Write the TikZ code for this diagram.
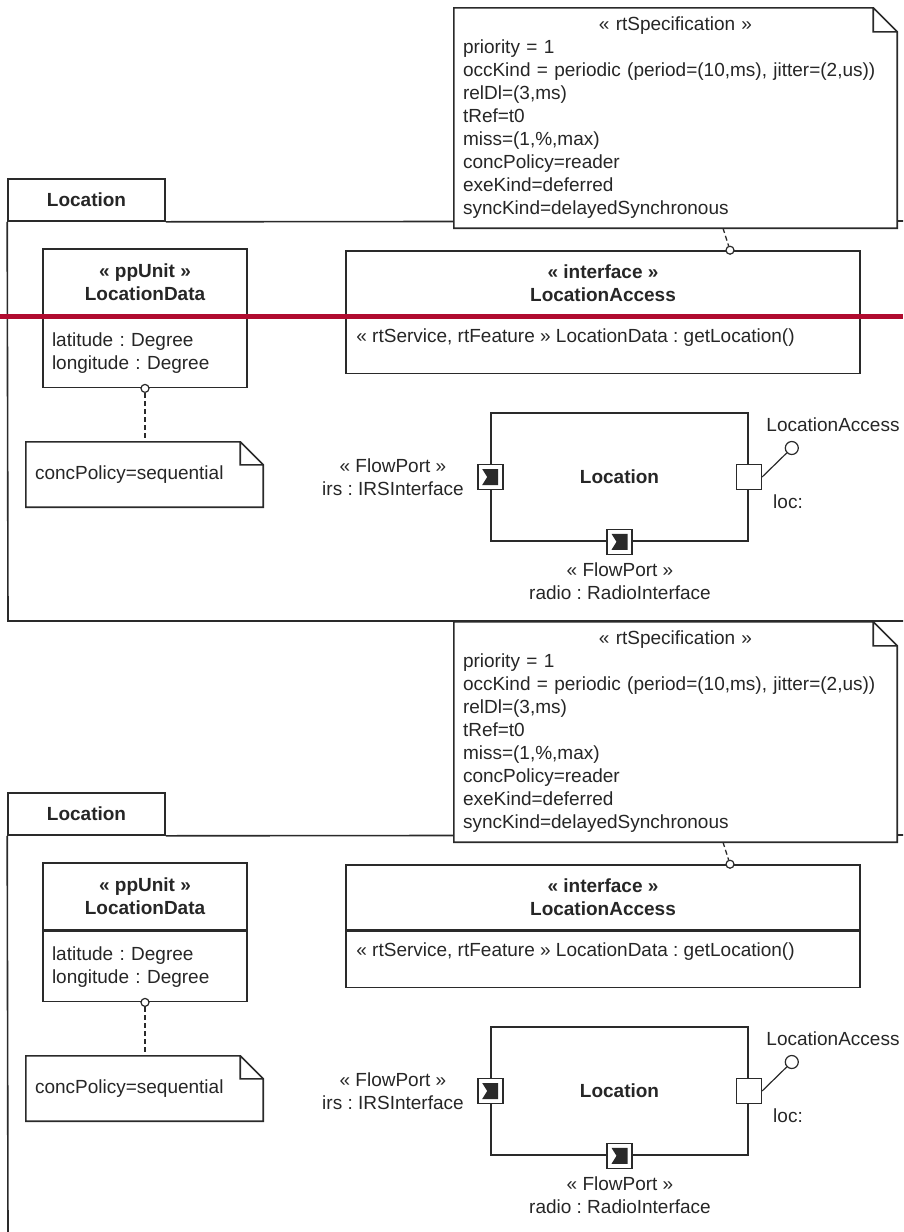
\documentclass[tikz,border=0pt]{standalone}
\usepackage{fontspec}
\setmainfont{Liberation Sans}
\usepackage{tikz}
\usetikzlibrary{positioning}

\definecolor{linec}{HTML}{2A2A2A}
\definecolor{textc}{HTML}{262626}
\definecolor{cutline}{HTML}{B00B2F}

% note outline with folded corner
\newcommand{\dogear}[2]{%
  \draw[fold] (#1.north west) -- ([xshift=-#2]#1.north east) -- ([yshift=-#2]#1.north east)
    -- (#1.south east) -- (#1.south west) -- cycle
    ([xshift=-#2]#1.north east) |- ([yshift=-#2]#1.north east);}

\begin{document}
\frenchspacing
\fontsize{19}{23}\selectfont
\begin{tikzpicture}[
    x=1pt, y=-1pt,
    every node/.style={text=textc},
    box/.style={rectangle, draw=linec, fill=white, line width=1.6pt, inner sep=0pt},
    hdr/.style={box, font=\bfseries, align=center},
    note/.style={rectangle, fill=white, inner xsep=9pt, inner ysep=0pt, align=left},
    fold/.style={draw=linec, line width=1.6pt},
    ball/.style={circle, draw=linec, fill=white, line width=1.2pt, minimum size=8pt, inner sep=0pt},
    port/.style={rectangle, draw=linec, fill=white, line width=1.6pt, minimum size=25pt, inner sep=0pt},
    link/.style={draw=linec, line width=1.3pt, dash pattern=on 5pt off 3pt},
    wire/.style={draw=linec, line width=1.6pt},
    lbl/.style={inner sep=0pt, align=center},
  ]
  \useasboundingbox (0,0) rectangle (903,1232);
  \clip (0,0) rectangle (903,1232);
  \foreach \dy/\k in {0/a, 614/b}{
  \begin{scope}[yshift=-\dy pt]
    % frame with its tab
    \node[box, minimum width=157, minimum height=42, font=\bfseries] (tab\k) at (86.5,200) {Location};
    \draw[wire] (tab\k.south east) -- (910,221) (tab\k.south west) -- (8,621) -- (910,621);
    % class and interface
    \node[hdr, minimum width=204, minimum height=67] (dataHd\k) at (145,282.5) {« ppUnit »\\LocationData};
    \node[box, minimum width=204, minimum height=70, text width=186, align=left, below=0pt of dataHd\k] (dataBd\k)
      {latitude : Degree\\longitude : Degree};
    \node[hdr, minimum width=514, minimum height=65] (ifHd\k) at (603,283.5) {« interface »\\LocationAccess};
    \node[box, minimum width=514, minimum height=56, below=0pt of ifHd\k] (ifBd\k) {};
    \node[lbl, anchor=west] (op\k) at ([xshift=11pt, yshift=-21pt]ifBd\k.north west)
      {« rtService, rtFeature » LocationData : getLocation()};
    % notes
    \node[note, minimum width=237, minimum height=65, text width=219] (seq\k) at (144.5,474.5) {concPolicy=sequential};
    \dogear{seq\k}{23pt}
    \node[note, minimum width=443, minimum height=220, text width=425] (spec\k) at (675.5,118)
      {\makebox[425pt][c]{« rtSpecification »}\\
       priority = 1\\
       occKind = periodic (period=(10,ms), jitter=(2,us))\\
       relDl=(3,ms)\\
       tRef=t0\\
       miss=(1,\%,max)\\
       concPolicy=reader\\
       exeKind=deferred\\
       syncKind=delayedSynchronous};
    \dogear{spec\k}{24pt}
    \node[ball] (dataBall\k) at (dataBd\k.south) {};
    \node[ball] (ifBall\k) at ([xshift=127pt]ifHd\k.north) {};
    \draw[link] (dataBall\k) -- (dataBall\k |- seq\k.north);
    \draw[link] ([xshift=47.5pt]spec\k.south) -- (ifBall\k);
    % component with ports
    \node[box, minimum width=257, minimum height=128, font=\bfseries] (comp\k) at (619.5,477) {Location};
    \node[port] (irs\k) at (comp\k.west) {};
    \node[port] (radio\k) at (comp\k.south) {};
    \node[port] (loc\k) at (comp\k.east) {};
    \foreach \p in {irs\k, radio\k}
      \fill[linec] (\p.center) ++(-8,-8) -- ++(16,0) -- ++(0,16) -- ++(-16,0) -- ++(5,-8) -- cycle;
    \node[ball, minimum size=13pt] (locBall\k) at ([xshift=43pt, yshift=29pt]comp\k.east) {};
    \draw[line width=1.2pt, draw=linec] (loc\k.east) -- (locBall\k);
    \node[lbl] (locLbl\k) at (833,425) {LocationAccess};
    \node[lbl] (locName\k) at (788,502) {loc:};
    \node[lbl, anchor=east] (irsLbl\k) at ([xshift=-13pt]irs\k.west) {« FlowPort »\\irs : IRSInterface};
    \node[lbl] (radioLbl\k) at (620,581) {« FlowPort »\\radio : RadioInterface};
  \end{scope}}
  \draw[cutline, line width=5pt] (0,316) -- (903,316);
\end{tikzpicture}
\end{document}
